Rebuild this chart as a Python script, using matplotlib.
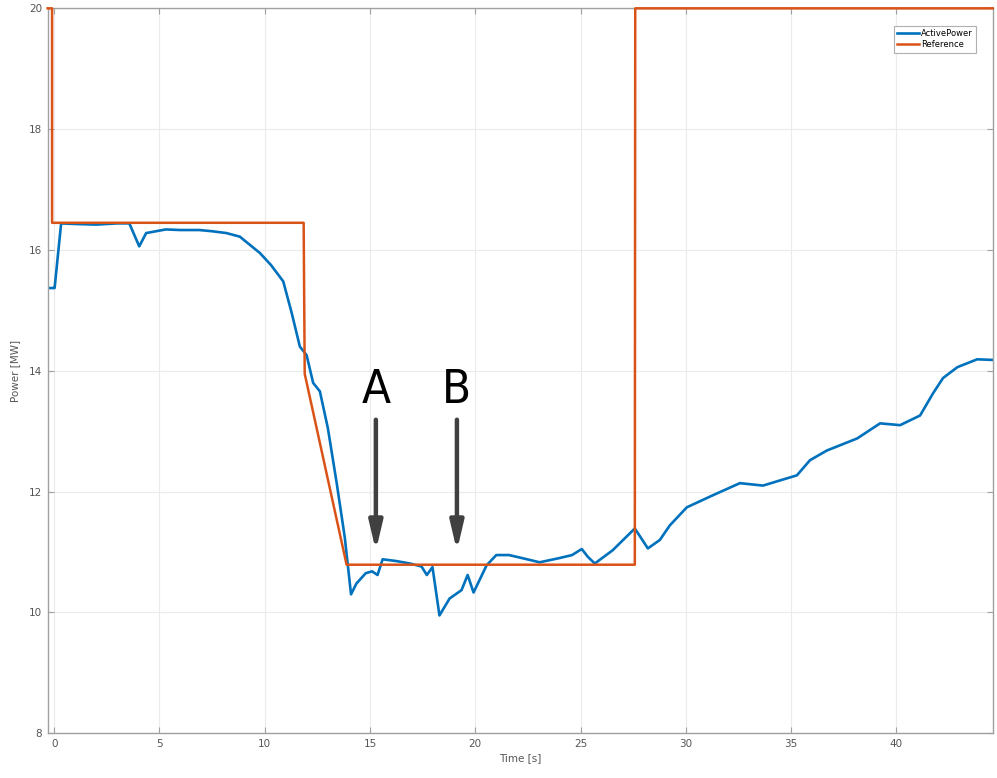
import numpy as np
import matplotlib
matplotlib.use("Agg")
import matplotlib.pyplot as plt

# ActivePower (blue)
t_power = [-0.31, 0.0, 0.02, 0.33, 1.0, 2.0, 3.0, 3.57, 4.04, 4.37, 5.3, 6.0,
           6.9, 7.5, 8.18, 8.82, 9.77, 10.3, 10.88, 11.28, 11.67, 11.99, 12.3,
           12.62, 13.0, 13.42, 13.8, 14.1, 14.36, 14.8, 15.1, 15.36, 15.6,
           16.26, 16.9, 17.45, 17.7, 17.97, 18.3, 18.78, 19.35, 19.64, 19.92,
           20.54, 21.0, 21.6, 22.1, 23.06, 24.0, 24.6, 25.06, 25.35, 25.68,
           26.53, 27.58, 28.2, 28.77, 29.24, 30.05, 31.29, 32.57, 33.67, 35.28,
           35.9, 36.7, 38.14, 39.23, 40.18, 41.13, 41.75, 42.22, 42.9, 43.84,
           44.58]
p_power = [15.37, 15.37, 15.37, 16.44, 16.43, 16.42, 16.44, 16.44, 16.06, 16.28,
           16.34, 16.33, 16.33, 16.31, 16.28, 16.22, 15.95, 15.75, 15.48, 14.96,
           14.40, 14.26, 13.80, 13.66, 13.05, 12.14, 11.25, 10.30, 10.48, 10.65,
           10.68, 10.62, 10.88, 10.85, 10.81, 10.76, 10.62, 10.75, 9.95, 10.23,
           10.37, 10.62, 10.33, 10.78, 10.95, 10.95, 10.91, 10.83, 10.90, 10.95,
           11.05, 10.92, 10.81, 11.03, 11.39, 11.06, 11.20, 11.44, 11.74, 11.94,
           12.14, 12.10, 12.27, 12.52, 12.68, 12.88, 13.13, 13.10, 13.26, 13.63,
           13.88, 14.06, 14.19, 14.18]

# Reference (orange)
t_ref = [-0.31, -0.1, -0.1, 11.85, 11.9, 13.89, 27.58, 27.6, 44.58]
p_ref = [20.0, 20.0, 16.45, 16.45, 13.95, 10.79, 10.79, 20.0, 20.0]

x_ticks = [0, 5, 10, 15, 20, 25, 30, 35, 40]
y_ticks = [8, 10, 12, 14, 16, 18, 20]

# annotation arrows: label, x, text y, arrow top, arrow tip
marks = [("A", 15.28, 13.67, 13.19, 11.02),
         ("B", 19.13, 13.67, 13.19, 11.02)]

fig = plt.figure(figsize=(9.97, 7.78), dpi=100)
ax = fig.add_axes([0.0478, 0.0575, 0.9479, 0.9318])

ax.plot(t_power, p_power, color="#0072BD", lw=1.9, label="ActivePower")
ax.plot(t_ref, p_ref, color="#D95319", lw=1.8, label="Reference",
        clip_on=False, zorder=3)

ax.set_xlim(-0.31, 44.58)
ax.set_ylim(8, 20)
ax.set_xticks(x_ticks)
ax.set_yticks(y_ticks)
ax.grid(True, color="#ebebeb", lw=0.8)
ax.set_axisbelow(True)
ax.tick_params(direction="in", top=True, right=True, length=4, width=0.8,
               color="#a0a0a0", labelcolor="#555555", labelsize=7.5, pad=4)
for s in ax.spines.values():
    s.set_color("#a0a0a0")
    s.set_linewidth(1.0)
ax.set_xlabel("Time [s]", fontsize=7.5, color="#555555", labelpad=3)
ax.set_ylabel("Power [MW]", fontsize=7.5, color="#555555", labelpad=6)

leg = ax.legend(loc="upper right", bbox_to_anchor=(0.987, 0.982), fontsize=6,
                handlelength=2.6, handletextpad=0.3, borderpad=0.4,
                labelspacing=0.3, fancybox=False, framealpha=1)
leg.get_frame().set_edgecolor("#b0b0b0")
leg.get_frame().set_linewidth(0.8)

for lab, x, ty, y0, y1 in marks:
    ax.text(x, ty, lab, fontsize=34, ha="center", va="center", color="black",
            family="DejaVu Sans", fontstretch="condensed")
    ax.annotate("", xy=(x, y1), xytext=(x, y0),
                arrowprops=dict(arrowstyle="-|>,head_width=0.4,head_length=1.7",
                                color="#404040", lw=3.2, shrinkA=0, shrinkB=0))

fig.savefig("out.png", dpi=100)
